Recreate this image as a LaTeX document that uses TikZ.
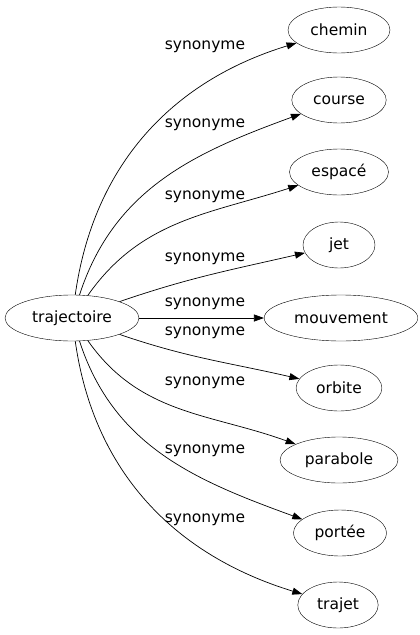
\documentclass[tikz,border=0pt]{standalone}
\usepackage{fontspec}
\setmainfont{DejaVu Sans}
\usetikzlibrary{shapes.geometric,arrows.meta}
\begin{document}
\begin{tikzpicture}[x=1pt,y=-1pt,
  mot/.style={draw,ellipse,inner xsep=7.5pt,inner ysep=8pt,minimum width=72pt,minimum height=46pt,font=\fontsize{15.5}{18}\selectfont},
  syn/.style={font=\fontsize{15.5}{18}\selectfont},
  lien/.style={-{Triangle[length=10pt,width=7pt]},line width=0.7pt}]
\useasboundingbox (0,0) rectangle (420,635);

\node[mot] (traj) at (72,318) {trajectoire};

\node[mot] (chemin) at (339,30) {chemin};
\node[mot] (course) at (339,100) {course};
\node[mot] (espace) at (339,172) {espacé};
\node[mot] (jet) at (339,245) {jet};
\node[mot] (mouv) at (341,318) {mouvement};
\node[mot] (orbite) at (339,388) {orbite};
\node[mot] (parab) at (339,460) {parabole};
\node[mot] (portee) at (340,533) {portée};
\node[mot] (trajet) at (338,605) {trajet};

\draw[lien] (traj) to[out=82,in=197] (chemin);
\draw[lien] (traj) to[out=72,in=200] (course);
\draw[lien] (traj) to[out=55,in=198] (espace);
\draw[lien] (traj) to[out=19,in=193] (jet);
\draw[lien] (traj) -- (mouv);
\draw[lien] (traj) to[out=-19,in=167] (orbite);
\draw[lien] (traj) to[out=-55,in=160] (parab);
\draw[lien] (traj) to[out=-72,in=160] (portee);
\draw[lien] (traj) to[out=-82,in=163] (trajet);

\node[syn] (s1) at (205,47) {synonyme};
\node[syn] (s2) at (205,125) {synonyme};
\node[syn] (s3) at (205,197) {synonyme};
\node[syn] (s4) at (205,259) {synonyme};
\node[syn] (s5) at (205,304) {synonyme};
\node[syn] (s6) at (205,333) {synonyme};
\node[syn] (s7) at (205,383) {synonyme};
\node[syn] (s8) at (205,451) {synonyme};
\node[syn] (s9) at (205,520) {synonyme};
\end{tikzpicture}
\end{document}
